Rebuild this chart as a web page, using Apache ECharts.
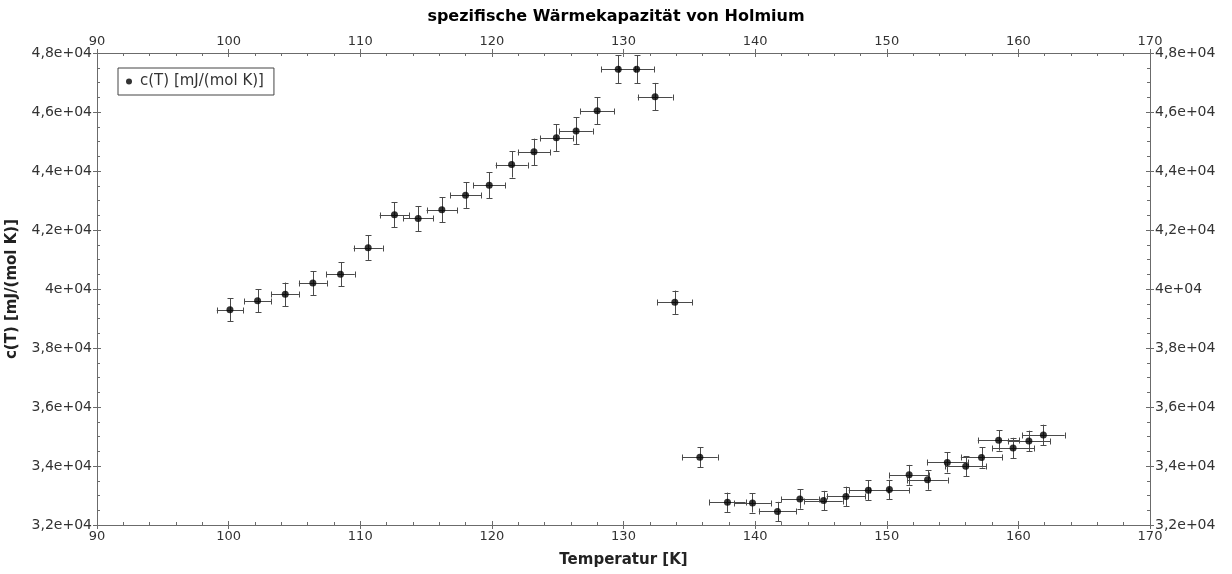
<!DOCTYPE html>
<html>
<head>
<meta charset="utf-8">
<script src="https://cdn.jsdelivr.net/npm/echarts@6/dist/echarts.min.js"></script>
<style>
  html, body { margin: 0; background: #fff; }
  #chart { width: 1232px; height: 574px; }
</style>
</head>
<body>
<div id="chart"></div>
<script>
// Messwerte: Temperatur [K] und spezifische Waermekapazitaet [mJ/(mol K)]
const temperature = [
  100.1, 102.2, 104.3, 106.4, 108.5, 110.6, 112.6, 114.4, 116.2, 118.0,
  119.8, 121.5, 123.2, 124.9, 126.4, 128.0, 129.6, 131.0, 132.4, 133.9,
  135.8, 137.9, 139.8, 141.7, 143.4, 145.2, 146.9, 148.6, 150.2, 151.7,
  153.1, 154.6, 156.0, 157.2, 158.5, 159.6, 160.8, 161.9
];
const heatCapacity = [
  39300, 39600, 39820, 40200, 40500, 41400, 42520, 42390, 42690, 43180,
  43520, 44220, 44650, 45130, 45360, 46040, 47450, 47450, 46520, 39550,
  34300, 32770, 32750, 32460, 32880, 32830, 32970, 33180, 33200, 33700,
  33530, 34120, 33990, 34290, 34870, 34610, 34850, 35050
];
// relative Unsicherheit der Messung (T und c)
const relErr = 0.01;

const xTickLabels = ['90', '100', '110', '120', '130', '140', '150', '160', '170'];
const yTickLabels = ['3,2e+04', '3,4e+04', '3,6e+04', '3,8e+04', '4e+04',
                     '4,2e+04', '4,4e+04', '4,6e+04', '4,8e+04'];

const seriesName = 'c(T) [mJ/(mol K)]';
const points = temperature.map((t, i) => [t, heatCapacity[i]]);

var chart = echarts.init(document.getElementById('chart'));

const axisColor = '#6b6b6b';
const labelColor = '#333';
const font = 'DejaVu Sans';

// one axis with labels + outside ticks, one without labels for inside/minor ticks
function xAxis(position, labels, inside) {
  return {
    type: 'value',
    position: position,
    min: 90, max: 170, interval: 10,
    axisLine: { show: labels, lineStyle: { color: axisColor } },
    axisTick: { show: true, inside: inside, length: 4, lineStyle: { color: axisColor } },
    minorTick: { show: inside, splitNumber: 5, length: 3, lineStyle: { color: axisColor } },
    splitLine: { show: false },
    axisLabel: {
      show: labels, color: labelColor, fontFamily: font, fontSize: 13, margin: 5,
      formatter: v => xTickLabels[Math.round((v - 90) / 10)]
    },
    name: position === 'bottom' && labels ? 'Temperatur [K]' : '',
    nameLocation: 'middle',
    nameGap: 28,
    nameTextStyle: { color: '#222', fontFamily: font, fontSize: 15, fontWeight: 'bold' }
  };
}

function yAxis(position, labels, inside) {
  return {
    type: 'value',
    position: position,
    min: 32000, max: 48000, interval: 2000,
    axisLine: { show: labels, lineStyle: { color: axisColor } },
    axisTick: { show: true, inside: inside, length: 4, lineStyle: { color: axisColor } },
    minorTick: { show: inside, splitNumber: 4, length: 3, lineStyle: { color: axisColor } },
    splitLine: { show: false },
    axisLabel: {
      show: labels, color: labelColor, fontFamily: font, fontSize: 14, margin: 5,
      formatter: v => yTickLabels[Math.round((v - 32000) / 2000)]
    },
    name: position === 'left' && labels ? seriesName : '',
    nameLocation: 'middle',
    nameGap: 77,
    nameRotate: 90,
    nameTextStyle: { color: '#222', fontFamily: font, fontSize: 15, fontWeight: 'bold' }
  };
}

var option = {
  animation: false,
  backgroundColor: '#fff',
  title: {
    text: 'spezifische Wärmekapazität von Holmium',
    left: 'center',
    top: 4,
    textStyle: { color: '#000', fontFamily: font, fontSize: 16, fontWeight: 'bold' }
  },
  legend: {
    data: [{ name: seriesName, icon: 'circle' }],
    left: 118,
    top: 68,
    orient: 'vertical',
    itemWidth: 6,
    itemHeight: 6,
    itemGap: 0,
    padding: [6, 10, 6, 8],
    borderColor: '#444',
    borderWidth: 1,
    textStyle: { color: '#333', fontFamily: font, fontSize: 15, padding: [0, 0, 0, 3] }
  },
  grid: {
    left: 97,
    right: 82,
    top: 53,
    bottom: 49,
    containLabel: false,
    outerBoundsMode: 'none'
  },
  xAxis: [
    xAxis('bottom', true, false),
    xAxis('bottom', false, true),
    xAxis('top', true, false),
    xAxis('top', false, true)
  ],
  yAxis: [
    yAxis('left', true, false),
    yAxis('left', false, true),
    yAxis('right', true, false),
    yAxis('right', false, true)
  ],
  series: [
    {
      type: 'custom',
      name: 'errors',
      xAxisIndex: 0,
      yAxisIndex: 0,
      data: points,
      silent: true,
      z: 2,
      renderItem: function (params, api) {
        var t = api.value(0), c = api.value(1);
        var dt = t * relErr, dc = c * relErr;
        var p = api.coord([t, c]);
        var l = api.coord([t - dt, c]);
        var r = api.coord([t + dt, c]);
        var lo = api.coord([t, c - dc]);
        var hi = api.coord([t, c + dc]);
        var px = Math.round(p[0]) + 0.5, py = Math.round(p[1]) + 0.5;
        var cap = 3;
        var st = { stroke: '#4a4a4a', lineWidth: 1 };
        return {
          type: 'group',
          children: [
            { type: 'line', shape: { x1: l[0], y1: py, x2: r[0], y2: py }, style: st },
            { type: 'line', shape: { x1: Math.round(l[0]) + 0.5, y1: py - cap, x2: Math.round(l[0]) + 0.5, y2: py + cap }, style: st },
            { type: 'line', shape: { x1: Math.round(r[0]) + 0.5, y1: py - cap, x2: Math.round(r[0]) + 0.5, y2: py + cap }, style: st },
            { type: 'line', shape: { x1: px, y1: lo[1], x2: px, y2: hi[1] }, style: st },
            { type: 'line', shape: { x1: px - cap, y1: Math.round(lo[1]) + 0.5, x2: px + cap, y2: Math.round(lo[1]) + 0.5 }, style: st },
            { type: 'line', shape: { x1: px - cap, y1: Math.round(hi[1]) + 0.5, x2: px + cap, y2: Math.round(hi[1]) + 0.5 }, style: st }
          ]
        };
      }
    },
    {
      type: 'scatter',
      name: seriesName,
      xAxisIndex: 0,
      yAxisIndex: 0,
      data: points,
      symbol: 'circle',
      symbolSize: 7,
      z: 3,
      itemStyle: { color: '#000' }
    }
  ]
};

chart.setOption(option);
</script>
</body>
</html>
